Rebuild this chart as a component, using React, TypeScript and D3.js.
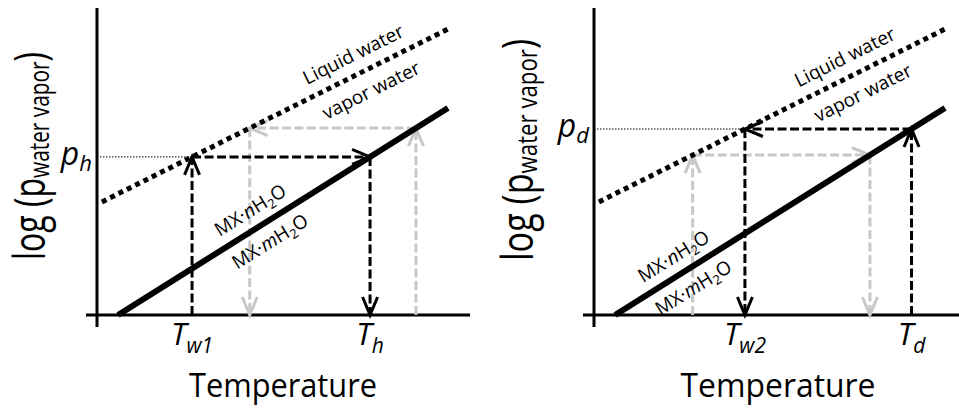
import React from "react";
import * as d3 from "d3";

const WIDTH = 959;
const HEIGHT = 409;

// Equilibrium lines, in temperature / log-pressure units
const hydrateTemp = [6, 100];
const hydrateLogP = [0, 69];
const waterTemp = [1.4, 100];
const waterLogP = [37.7, 95.3];

// One panel per process
const panelNames = ["hydration", "dehydration"];
const panelLeft = [97, 594];
const cycleLogP = [52.7, 62.0];
const shadowLogP = [62.3, 53.3];
const cycleStartsOnWater = [true, false];
const pressureSub = ["h", "d"];
const coldSub = ["w1", "w2"];
const hotSub = ["h", "d"];
const mxLabelTemp = [46.5, 25.5];
const waterLabelTemp = [75.5, 74];
const yLabelX = [45, 533];
const yLabelCenter = [156, 150];
const yLabelLength = [208, 222];
const xLabelCenter = [283, 778];
const xLabelLength = [188, 195];

const FONT = "'Open Sans', 'DejaVu Sans', sans-serif";
const GREY = "#c8c8c8";

function tempAt(temps: number[], ps: number[], p: number) {
  return temps[0] + ((p - ps[0]) * (temps[1] - temps[0])) / (ps[1] - ps[0]);
}
function logPAt(temps: number[], ps: number[], t: number) {
  return ps[0] + ((t - temps[0]) * (ps[1] - ps[0])) / (temps[1] - temps[0]);
}

function chevron(x1: number, y1: number, x2: number, y2: number, len = 18, half = 7.5) {
  const dx = x2 - x1;
  const dy = y2 - y1;
  const l = Math.hypot(dx, dy);
  const ux = dx / l;
  const uy = dy / l;
  const bx = x2 - ux * len;
  const by = y2 - uy * len;
  const nx = -uy;
  const ny = ux;
  const p = d3.path();
  p.moveTo(bx + nx * half, by + ny * half);
  p.lineTo(x2, y2);
  p.lineTo(bx - nx * half, by - ny * half);
  return p.toString();
}

function Cycle({ x, y, level, startOnWater, color }: any) {
  const tWater = tempAt(waterTemp, waterLogP, level);
  const tHydrate = tempAt(hydrateTemp, hydrateLogP, level);
  const tA = startOnWater ? tWater : tHydrate;
  const tB = startOnWater ? tHydrate : tWater;
  const pts = [
    [x(tA), y(0)],
    [x(tA), y(level)],
    [x(tB), y(level)],
    [x(tB), y(0)],
  ];
  const segs = [0, 1, 2];
  return (
    <g stroke={color} fill="none" strokeWidth={3}>
      {segs.map((i) => (
        <g key={i}>
          <line
            x1={pts[i][0]}
            y1={pts[i][1]}
            x2={pts[i + 1][0]}
            y2={pts[i + 1][1]}
            strokeDasharray="9 3.5"
          />
          <path
            d={chevron(pts[i][0], pts[i][1], pts[i + 1][0], pts[i + 1][1])}
            strokeLinejoin="miter"
          />
        </g>
      ))}
    </g>
  );
}

function LineLabels({ x, y, temps, ps, t, above, below, upOff, downOff, size }: any) {
  const ang =
    (Math.atan2(y(ps[1]) - y(ps[0]), x(temps[1]) - x(temps[0])) * 180) / Math.PI;
  const px = x(t);
  const py = y(logPAt(temps, ps, t));
  return (
    <g
      transform={`translate(${px},${py}) rotate(${ang})`}
      fontFamily={FONT}
      fontSize={size}
      textAnchor="middle"
      fill="#000"
    >
      <text y={upOff}>{above}</text>
      <text y={downOff}>{below}</text>
    </g>
  );
}

function Panel({ i }: { i: number }) {
  const left = panelLeft[i];
  const x = d3.scaleLinear().domain([0, 100]).range([left, left + 351]);
  const y = d3.scaleLinear().domain([0, 100]).range([315, 15]);
  const seg = (temps: number[], ps: number[]) =>
    d3
      .line<number>()
      .x((t) => x(t))
      .y((t) => y(logPAt(temps, ps, t)))(temps) as string;

  const level = cycleLogP[i];
  const tWater = tempAt(waterTemp, waterLogP, level);
  const tHydrate = tempAt(hydrateTemp, hydrateLogP, level);

  const sub = (m: string, s: string) => (
    <>
      {m}
      <tspan fontSize={21} dy={8}>
        {s}
      </tspan>
    </>
  );
  const hydrate = (k: string) => (
    <>
      MX·<tspan fontStyle="italic">{k}</tspan>H
      <tspan fontSize={13} dy={4}>
        2
      </tspan>
      <tspan dy={-4}>O</tspan>
    </>
  );

  return (
    <g className={panelNames[i]}>
      {/* axes */}
      <line x1={left} y1={8} x2={left} y2={327} stroke="#000" strokeWidth={3} />
      <line x1={left - 11} y1={y(0)} x2={left + 373} y2={y(0)} stroke="#000" strokeWidth={3} />

      {/* pressure guide */}
      <line
        x1={left}
        y1={y(level)}
        x2={x(tWater)}
        y2={y(level)}
        stroke="#000"
        strokeWidth={1}
        strokeDasharray="1.5 1.5"
      />

      <Cycle x={x} y={y} level={shadowLogP[i]} startOnWater={!cycleStartsOnWater[i]} color={GREY} />
      <Cycle x={x} y={y} level={level} startOnWater={cycleStartsOnWater[i]} color="#000" />

      {/* salt hydrate equilibrium */}
      <path d={seg(hydrateTemp, hydrateLogP)} stroke="#000" strokeWidth={6} fill="none" />
      {/* liquid water / vapour equilibrium */}
      <path
        d={seg(waterTemp, waterLogP)}
        stroke="#000"
        strokeWidth={5}
        strokeDasharray="5 4.3"
        fill="none"
      />

      <LineLabels
        x={x}
        y={y}
        temps={waterTemp}
        ps={waterLogP}
        t={waterLabelTemp[i]}
        above="Liquid water"
        below="vapor water"
        upOff={-13}
        downOff={27}
        size={19}
      />
      <LineLabels
        x={x}
        y={y}
        temps={hydrateTemp}
        ps={hydrateLogP}
        t={mxLabelTemp[i]}
        above={hydrate("n")}
        below={hydrate("m")}
        upOff={-12}
        downOff={25}
        size={19}
      />

      {/* pressure tick label */}
      <text
        x={left - 5}
        y={y(level) + 8}
        textAnchor="end"
        fontFamily={FONT}
        fontStyle="italic"
        fontSize={32}
      >
        p
        <tspan fontSize={22} dy={6}>
          {pressureSub[i]}
        </tspan>
      </text>

      {/* temperature tick labels */}
      <text x={x(tWater)} y={345} textAnchor="middle" fontFamily={FONT} fontStyle="italic" fontSize={31}>
        {sub("T", coldSub[i])}
      </text>
      <text x={x(tHydrate)} y={345} textAnchor="middle" fontFamily={FONT} fontStyle="italic" fontSize={31}>
        {sub("T", hotSub[i])}
      </text>

      {/* axis titles */}
      <text
        x={xLabelCenter[i]}
        y={397}
        textAnchor="middle"
        fontFamily={FONT}
        fontSize={32}
        textLength={xLabelLength[i]}
        lengthAdjust="spacingAndGlyphs"
      >
        Temperature
      </text>
      <text
        transform={`translate(${yLabelX[i]},${yLabelCenter[i]}) rotate(-90)`}
        textAnchor="middle"
        fontFamily={FONT}
        fontSize={43}
        textLength={yLabelLength[i]}
        lengthAdjust="spacingAndGlyphs"
      >
        log (p
        <tspan fontSize={28} dy={4}>
          water vapor
        </tspan>
        <tspan dy={-4}>)</tspan>
      </text>
    </g>
  );
}

export default function App() {
  return (
    <svg
      width={WIDTH}
      height={HEIGHT}
      style={{ display: "block", position: "absolute", left: 0, top: 0, background: "#fff" }}
    >
      <rect width={WIDTH} height={HEIGHT} fill="#fff" />
      {panelNames.map((_, i) => (
        <Panel key={i} i={i} />
      ))}
    </svg>
  );
}
